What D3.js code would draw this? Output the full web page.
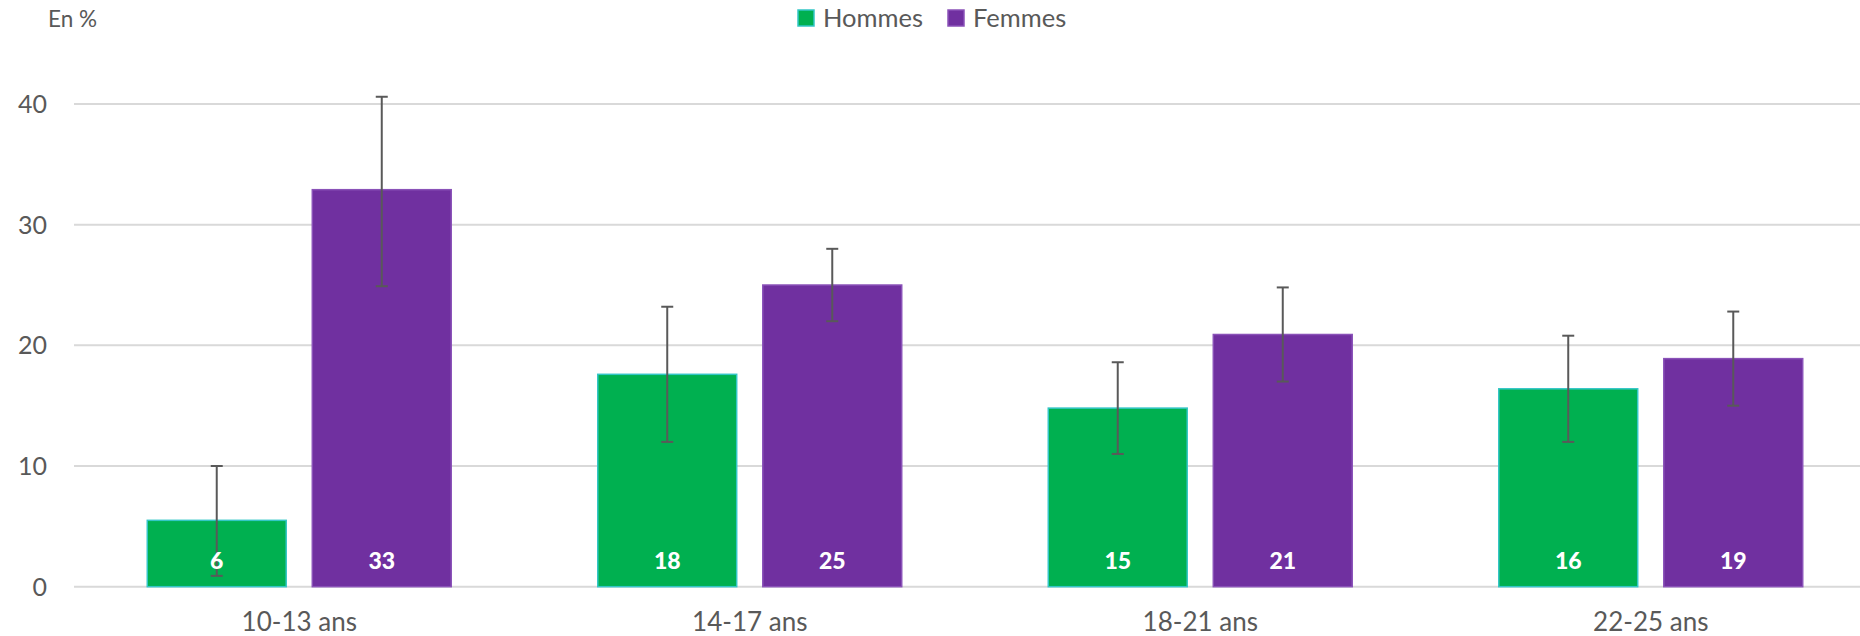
<!DOCTYPE html>
<html>
<head>
<meta charset="utf-8">
<script src="https://cdn.jsdelivr.net/npm/d3@7"></script>
<style>
  body { margin: 0; background: #fff; }
  svg text { font-family: Lato, "Open Sans", sans-serif; fill: #595959; }
</style>
</head>
<body>
<svg id="chart"></svg>
<script>
// data
const categories = ["10-13 ans", "14-17 ans", "18-21 ans", "22-25 ans"]
const series = ["Hommes", "Femmes"]
const hommes = [5.5, 17.6, 14.8, 16.4]
const femmes = [32.9, 25.0, 20.9, 18.9]
const hommesLow = [0.9, 12.0, 11.0, 12.0]
const hommesHigh = [10.0, 23.2, 18.6, 20.8]
const femmesLow = [24.9, 22.0, 17.0, 15.0]
const femmesHigh = [40.6, 28.0, 24.8, 22.8]
const labelsH = ["6", "18", "15", "16"]
const labelsF = ["33", "25", "21", "19"]
const yTicks = [0, 10, 20, 30, 40]

const width = 1860, height = 636
const svg = d3.select("#chart").attr("width", width).attr("height", height)

const fills = { Hommes: "#00B050", Femmes: "#7030A0" }
const strokes = { Hommes: "#33c6c6", Femmes: "#8a52b8" }

// scales
let x = d3.scaleBand().domain(categories).range([74, 1876]).paddingInner(0).paddingOuter(0)
let x1 = d3.scaleBand().domain(series).range([0, x.bandwidth()]).paddingInner(0.158).paddingOuter(0.444)
let y = d3.scaleLinear().domain([0, 40]).range([586.7, 104])

// gridlines
svg.append("g").selectAll("line").data(yTicks).join("line")
    .attr("x1", 74).attr("x2", width)
    .attr("y1", d => y(d)).attr("y2", d => y(d))
    .attr("stroke", "#d9d9d9").attr("stroke-width", 2)

// y tick labels
svg.append("g").selectAll("text").data(yTicks).join("text")
    .attr("x", 47).attr("y", d => y(d))
    .attr("text-anchor", "end").attr("dy", "0.36em")
    .style("font-size", "25px")
    .text(d => d)

svg.append("text").attr("x", 48).attr("y", 27)
    .style("font-size", "22.5px").text("En %")

// rows for bars
let rows = []
categories.forEach((c, i) => {
    rows.push({ cat: c, s: "Hommes", v: hommes[i], lo: hommesLow[i], hi: hommesHigh[i], lab: labelsH[i] })
    rows.push({ cat: c, s: "Femmes", v: femmes[i], lo: femmesLow[i], hi: femmesHigh[i], lab: labelsF[i] })
})
const cx = d => x(d.cat) + x1(d.s) + x1.bandwidth() / 2

svg.append("g").selectAll("rect").data(rows).join("rect")
    .attr("x", d => x(d.cat) + x1(d.s))
    .attr("y", d => y(d.v))
    .attr("width", x1.bandwidth())
    .attr("height", d => y(0) - y(d.v))
    .attr("fill", d => fills[d.s])
    .attr("stroke", d => strokes[d.s])
    .attr("stroke-width", 1.5)

// error bars
let err = svg.append("g").attr("stroke", "#595959").attr("stroke-width", 2)
err.selectAll(".v").data(rows).join("line")
    .attr("x1", cx).attr("x2", cx)
    .attr("y1", d => y(d.lo)).attr("y2", d => y(d.hi))
err.selectAll(".t").data(rows.flatMap(d => [{ r: d, v: d.lo }, { r: d, v: d.hi }])).join("line")
    .attr("x1", d => cx(d.r) - 6).attr("x2", d => cx(d.r) + 6)
    .attr("y1", d => y(d.v)).attr("y2", d => y(d.v))

// value labels
svg.append("g").selectAll("text").data(rows).join("text")
    .attr("x", cx).attr("y", y(0) - 18)
    .attr("text-anchor", "middle")
    .style("font-size", "23px").style("font-weight", "900").style("fill", "#fff")
    .text(d => d.lab)

// x labels
svg.append("g").selectAll("text").data(categories).join("text")
    .attr("x", d => x(d) + x.bandwidth() / 2).attr("y", 631)
    .attr("text-anchor", "middle")
    .style("font-size", "26px")
    .text(d => d)

// legend
const legendX = [798, 948]
let lg = svg.append("g").selectAll("g").data(series).join("g")
    .attr("transform", (d, i) => `translate(${legendX[i]},10)`)
lg.append("rect").attr("width", 16).attr("height", 16)
    .attr("fill", d => fills[d]).attr("stroke", d => strokes[d]).attr("stroke-width", 1.5)
lg.append("text").attr("x", 25).attr("y", 17)
    .style("font-size", "25.5px").text(d => d)
</script>
</body>
</html>
